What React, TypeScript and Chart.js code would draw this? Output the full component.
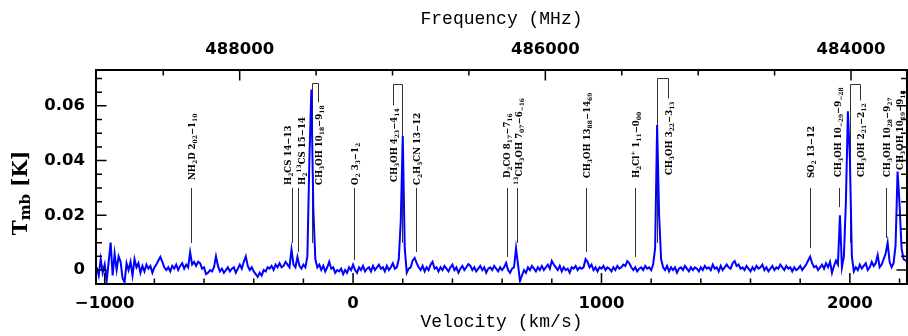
import React, { useEffect, useRef } from "react";
import { Chart, registerables } from "chart.js";

Chart.register(...registerables);

// ---- spectrum: channel grid (km/s) and main-beam temperature in mK ----
const V_START = -1032;
const V_STEP = 8;
const tmbMilliK = [
  1, -2, 4, -1, 2, -4, 3, 10, -2, 6,
  0, 5, 3, -3, -4.5, 2.5, 0, 3, -2, 4,
  1, 2.5, -1, 1.5, -0.5, 2, 0.5, 1.5, -1, 1,
  2, 3.5, 4.8, 3, 1, 0, 1, -0.5, 1.5, 0.5,
  2, 0, 1.5, 2.5, 0.5, 2, 1, 6.5, 2, 3,
  1.5, 3, 2.5, 0.5, 1, -1.5, -1, 0, -0.5, 1,
  5, 1.5, -0.5, 0.5, -1, 0, 1, -0.5, 0.5, 1,
  -1, 0.5, 2, 0.5, 3, 5, 1.5, 0, 1, -0.5,
  -1.5, -2.5, -1, -2, 0, -0.5, 1, 0.5, 1.5, 0,
  2, 1, 2.5, 1, 1.5, 3, 2, 1, 7.5, 2,
  1, 4.8, 1.5, 0.5, 2, 1, 5, 40, 66, 22,
  4, 1, 2, 0, 1.5, -0.5, 1, 3, 0.5, 1,
  -1, 0, -0.5, 0.5, -1.5, 0, -1, 1, 0, 2,
  0, -1, 1, 0, 1.5, -0.5, 0.5, 1, -0.5, 1.5,
  0, 1, 2, 0.5, 1, -0.5, 1.5, 0, 1, 2.5,
  0.5, 1, 4, 18, 49, 8, -1, 0.5, 1, 3.5,
  4.4, 2.5, 1, 0, 1.5, -0.5, 1, 0, 2, 3,
  0.5, 1, -0.5, 1, 0, 1.5, 0.5, -0.5, 1, 2,
  0, 1, -1, 0.5, 1.5, 0, 1, 2.2, 1.5, 0,
  1, -0.5, 0.5, 1.5, 0, 1, -1, 0.5, 1, 0,
  1.5, 0.5, -0.5, 1, 0, 1, 2.6, 0, -1, 0.5,
  1, 8, 2, -4, -2, 0, -1, 1, 0, 1.5,
  0.5, -0.5, 1, 0, 1.5, 0, 1, 2, 0.5, 3.3,
  2, 1, 0, 1.5, -0.5, 1, 0, 0.5, -1, 1,
  0.5, 1.5, 0, 1, 0.5, 1, 4, 3, 1, 2,
  0, 1, -0.5, 1, 0.5, 1.5, 0, 1, 0.5, -0.5,
  1, 0, 1.5, 0.5, 1, 2, 1.5, 3.3, 2.5, 1,
  0, 1, -0.5, 0.5, 1, 0, 1.5, 0.5, 1, 0,
  2, 8, 53, 20, 4, 1, 0, 1.5, -0.5, 1,
  0, 1, -1, 0.5, 1, 0, 1.5, 0.5, -0.5, 1,
  0, 1, 0.5, -0.5, 1, 0, 1.5, 0.5, 1, 0,
  2, 0.5, 1, -0.5, 1.5, 0, 1, 2, 1, 0.5,
  2.5, 3.3, 1.5, 2, 0.5, 1, 0, 1.5, 0.5, -0.5,
  1, 0, 1.5, 0.5, 1, 2, 0, 1, -0.5, 0.5,
  1.5, 0, 1, 0.5, 2, 1, 0, 1.5, 0.5, 1,
  -0.5, 1, 0, 0.5, 1.5, 0, 1, 2, 3.5, 4.9,
  2.5, 1, 1.5, 0, 1, 2, 0.5, 2.5, 1, 3,
  -1, 1.5, 3.5, 2, 20, 1, 5, 25, 58, 41,
  5, -0.5, 1, 0, 2, 0.5, 1.5, 2.5, 0, 1,
  3, 1.5, 2.5, 5.5, 1, 2, 4, 6, 10, 3,
  1, 2.5, 9, 36, 24, 8, 4, 3.5, 3,
];
const velocities = tmbMilliK.map((_, i) => V_START + i * V_STEP);

// ---- axes ----
const V_MIN = -1035;
const V_MAX = 2230;
const T_MIN = -0.0051;
const T_MAX = 0.0731;
const REST_FREQ = 487258; // MHz, at v = 0
const C_KMS = 299792.458;
const velMajorTicks = [-1000, 0, 1000, 2000];
const freqMajorTicks = [484000, 486000, 488000];
const tmbMajorTicks = [0, 0.02, 0.04, 0.06];

// ---- line identifications (velocities in km/s, heights in K) ----
const lineLabels = [
  "NH_{2}D 2_{02}−1_{10}",
  "H_{2}CS 14−13",
  "H_{2}^{13}CS 15−14",
  "CH_{3}OH 10_{18}−9_{18}",
  "O_{2} 3_{3}−1_{2}",
  "CH_{3}OH 4_{23}−4_{14}",
  "C_{2}H_{5}CN 13−12",
  "D_{2}CO 8_{17}−7_{16}",
  "^{13}CH_{3}OH 7_{07}−6_{−16}",
  "CH_{3}OH 13_{88}−14_{69}",
  "H_{2}Cl^{+} 1_{11}−0_{00}",
  "CH_{3}OH 3_{22}−3_{13}",
  "SO_{2} 13−12",
  "CH_{3}OH 10_{−29}−9_{−28}",
  "CH_{3}OH 2_{21}−2_{12}",
  "CH_{3}OH 10_{28}−9_{27}",
  "CH_{3}OH 10_{19}−9_{18}",
];
const lineVel = [-654, -247, -220, -164, 2, 197, 252, 620, 658, 939, 1134, 1225, 1839, 1957, 2001, 2146, 2198];
const labelVel = [-654, -266, -210, -140, 2, 161, 252, 615, 665, 939, 1134, 1268, 1839, 1950, 2039, 2146, 2198];
const markerLow = [0.0099, 0.0099, 0.0066, 0.0099, 0.0037, 0.0099, 0.0066, 0.0048, 0.0099, 0.0066, 0.0048, 0.0099, 0.008, 0.023, 0.0099, 0.0117, null];
const labelBase = [0.0329, 0.0311, 0.0311, 0.0311, 0.0311, 0.0322, 0.0311, 0.0336, 0.0311, 0.0336, 0.0336, 0.0347, 0.0336, 0.034, 0.034, 0.034, 0.0366];
const bracketTop = [null, null, null, 0.0683, null, 0.068, null, null, null, null, null, 0.0701, null, null, 0.068, null, null];
const MARKER_HIGH = 0.03;

const SERIF = '"DejaVu Serif", serif';

type Seg = { t: string; m: number };
function parseRich(s: string): Seg[] {
  const out: Seg[] = [];
  const re = /([_^])\{([^}]*)\}|([^_^]+)/g;
  let m: RegExpExecArray | null;
  while ((m = re.exec(s))) {
    if (m[3]) out.push({ t: m[3], m: 0 });
    else out.push({ t: m[2], m: m[1] === "_" ? 1 : 2 });
  }
  return out;
}

function richWidth(ctx: CanvasRenderingContext2D, segs: Seg[], big: number, small: number, weight: string) {
  let w = 0;
  for (const s of segs) {
    ctx.font = `${weight} ${s.m === 0 ? big : small}px ${SERIF}`;
    w += ctx.measureText(s.t).width;
  }
  return w;
}

function drawRich(
  ctx: CanvasRenderingContext2D, segs: Seg[], x0: number, base: number,
  big: number, small: number, subDy: number, supDy: number, weight: string
) {
  let cx = x0;
  for (const s of segs) {
    ctx.font = `${weight} ${s.m === 0 ? big : small}px ${SERIF}`;
    const dy = s.m === 1 ? subDy : s.m === 2 ? supDy : 0;
    ctx.fillText(s.t, cx, base + dy);
    cx += ctx.measureText(s.t).width;
  }
}

const annotationPlugin = {
  id: "lineIds",
  beforeDatasetsDraw(chart: any) {
    const { ctx, scales } = chart;
    const xs = scales.x;
    const ys = scales.y;
    ctx.save();
    ctx.strokeStyle = "#333";
    ctx.fillStyle = "#000";
    ctx.lineWidth = 1;
    ctx.textBaseline = "alphabetic";
    ctx.textAlign = "left";
    const big = 8.6;
    const small = 6;
    for (let i = 0; i < lineLabels.length; i++) {
      const segs = parseRich(lineLabels[i]);
      const lx = Math.round(xs.getPixelForValue(labelVel[i])) + 0.5;
      const px = Math.round(xs.getPixelForValue(lineVel[i])) + 0.5;
      const yStart = ys.getPixelForValue(labelBase[i]);
      const w = richWidth(ctx, segs, big, small, "bold");
      const yEnd = yStart - w;
      const low = markerLow[i];
      const bt = bracketTop[i];
      ctx.beginPath();
      if (bt !== null) {
        const yb = Math.round(ys.getPixelForValue(bt)) + 0.5;
        ctx.moveTo(px, ys.getPixelForValue(low as number));
        ctx.lineTo(px, yb);
        ctx.lineTo(lx, yb);
        ctx.lineTo(lx, yEnd - 3);
      } else if (low !== null) {
        ctx.moveTo(px, ys.getPixelForValue(MARKER_HIGH));
        ctx.lineTo(px, ys.getPixelForValue(low));
      }
      ctx.stroke();
      ctx.save();
      ctx.translate(lx, yStart);
      ctx.rotate(-Math.PI / 2);
      drawRich(ctx, segs, 0, 3.2, big, small, 2.3, -4, "bold");
      ctx.restore();
    }
    ctx.restore();
  },
};

const framePlugin = {
  id: "frameTicks",
  afterDatasetsDraw(chart: any) {
    const { ctx, chartArea: a, scales } = chart;
    const xs = scales.x;
    const xt = scales.x2;
    const ys = scales.y;
    ctx.save();
    ctx.strokeStyle = "#000";
    ctx.lineWidth = 1.5;
    ctx.beginPath();
    for (let k = -6; k <= 12; k++) {
      const v = k * 200;
      const p = xs.getPixelForValue(v);
      if (p < a.left + 1 || p > a.right - 1) continue;
      const len = k % 5 === 0 ? 11 : 5.5;
      ctx.moveTo(p, a.bottom);
      ctx.lineTo(p, a.bottom - len);
    }
    for (let k = 967; k <= 978; k++) {
      const f = k * 500;
      const p = xt.getPixelForValue(f);
      if (p < a.left + 1 || p > a.right - 1) continue;
      const len = k % 4 === 0 ? 10.5 : 5.5;
      ctx.moveTo(p, a.top);
      ctx.lineTo(p, a.top + len);
    }
    for (let k = -1; k <= 15; k++) {
      const t = k * 0.005;
      const p = ys.getPixelForValue(t);
      if (p < a.top + 1 || p > a.bottom - 1) continue;
      const len = k % 4 === 0 ? 10.5 : 6;
      ctx.moveTo(a.left, p);
      ctx.lineTo(a.left + len, p);
      ctx.moveTo(a.right, p);
      ctx.lineTo(a.right - len, p);
    }
    ctx.stroke();
    ctx.lineWidth = 2;
    ctx.strokeRect(a.left, a.top, a.right - a.left, a.bottom - a.top);
    ctx.restore();
  },
  afterDraw(chart: any) {
    const { ctx, chartArea: a } = chart;
    const cx = (a.left + a.right) / 2;
    ctx.save();
    ctx.fillStyle = "#000";
    ctx.textAlign = "center";
    ctx.textBaseline = "middle";
    ctx.font = '18px "Liberation Mono", monospace';
    ctx.fillText("Frequency (MHz)", cx, 19);
    ctx.fillText("Velocity (km/s)", cx, 322);
    // T_mb [K]
    const segs = parseRich("T_{mb} [K]");
    ctx.textAlign = "left";
    ctx.textBaseline = "alphabetic";
    const w = richWidth(ctx, segs, 20, 15, "bold");
    ctx.translate(20, 193);
    ctx.rotate(-Math.PI / 2);
    drawRich(ctx, segs, -w / 2, 7.3, 20, 15, 3, -6, "bold");
    ctx.restore();
  },
};

const tickFont = { family: "DejaVu Sans", size: 16.5, weight: "bold" as const };
const fmt = (v: number) => String(v).replace("-", "−");

export default function App() {
  const ref = useRef<HTMLCanvasElement | null>(null);
  useEffect(() => {
    if (!ref.current) return;
    const fMax = REST_FREQ * (1 - V_MIN / C_KMS);
    const fMin = REST_FREQ * (1 - V_MAX / C_KMS);
    const chart = new Chart(ref.current, {
      type: "line",
      data: {
        datasets: [
          {
            data: velocities.map((v, i) => ({ x: v, y: tmbMilliK[i] / 1000 })),
            borderColor: "#0000ff",
            borderWidth: 2,
            pointRadius: 0,
            tension: 0,
            xAxisID: "x",
            yAxisID: "y",
          },
        ],
      },
      options: {
        animation: false,
        responsive: false,
        devicePixelRatio: 1,
        layout: { padding: { left: 0, right: 1, top: 0, bottom: 0 } },
        plugins: { legend: { display: false }, tooltip: { enabled: false } },
        scales: {
          x: {
            type: "linear",
            position: "bottom",
            min: V_MIN,
            max: V_MAX,
            grid: { display: false, drawTicks: false },
            border: { display: false },
            afterFit: (s: any) => { s.height = 52; },
            afterBuildTicks: (s: any) => { s.ticks = velMajorTicks.map((value) => ({ value })); },
            ticks: { font: tickFont, color: "#000", padding: 10, maxRotation: 0, autoSkip: false, callback: (v: any) => fmt(v) },
          },
          x2: {
            type: "linear",
            position: "top",
            reverse: true,
            min: fMin,
            max: fMax,
            grid: { display: false, drawTicks: false },
            border: { display: false },
            afterFit: (s: any) => { s.height = 70; },
            afterBuildTicks: (s: any) => { s.ticks = freqMajorTicks.map((value) => ({ value })); },
            ticks: { font: tickFont, color: "#000", padding: 10, maxRotation: 0, autoSkip: false, callback: (v: any) => String(v) },
          },
          y: {
            type: "linear",
            position: "left",
            min: T_MIN,
            max: T_MAX,
            grid: { display: false, drawTicks: false },
            border: { display: false },
            afterFit: (s: any) => { s.width = 96; },
            afterBuildTicks: (s: any) => { s.ticks = tmbMajorTicks.map((value) => ({ value })); },
            ticks: { font: tickFont, color: "#000", padding: 11, autoSkip: false, callback: (v: any) => String(v) },
          },
        },
      },
      plugins: [annotationPlugin, framePlugin],
    });
    return () => chart.destroy();
  }, []);
  return (
    <div style={{ position: "fixed", left: 0, top: 0, width: 908, height: 336, background: "#fff" }}>
      <canvas ref={ref} width={908} height={336} style={{ display: "block", width: 908, height: 336 }} />
    </div>
  );
}
